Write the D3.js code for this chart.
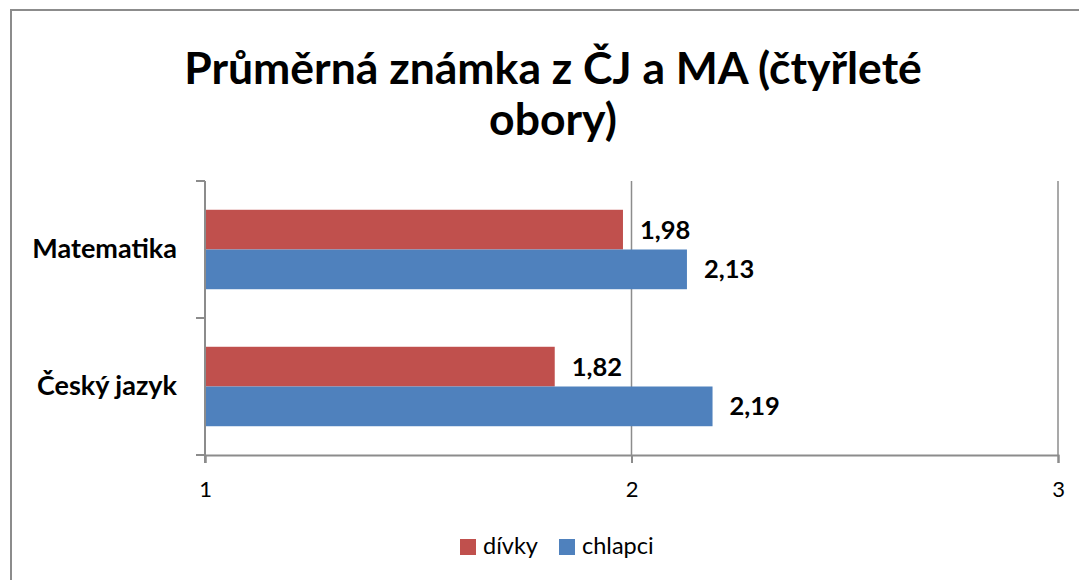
<!DOCTYPE html>
<html>
<head>
<meta charset="utf-8">
<script src="https://cdn.jsdelivr.net/npm/d3@7"></script>
<style>
  body { margin: 0; background: #fff; }
  svg { display: block; font-family: Lato, "Open Sans", sans-serif; }
</style>
</head>
<body>
<svg id="canvas" width="1079" height="580"></svg>
<script>
let categories = ['Matematika', 'Český jazyk']
let seriesNames = ['dívky', 'chlapci']
let divky = [1.98, 1.82]
let chlapci = [2.13, 2.19]
let xTicks = [1, 2, 3]
let seriesColors = ['#C0504D', '#4F81BD']
let titleLines = ['Průměrná známka z ČJ a MA (čtyřleté', 'obory)']

let canvas = d3.select('#canvas')

// outer frame (runs off the right and bottom edge)
canvas.append('rect')
    .attr('x', 11).attr('y', 10)
    .attr('width', 1100).attr('height', 600)
    .attr('fill', 'none')
    .attr('stroke', '#8c8c8c')
    .attr('stroke-width', 2)

let plotLeft = 205, plotRight = 1058, plotTop = 181, plotBottom = 455

let xScale = d3.scaleLinear()
    .domain([1, 3])
    .range([plotLeft, plotRight])

let yScale = d3.scaleBand()
    .domain(categories)
    .range([plotTop, plotBottom])
    .paddingInner(0.42)
    .paddingOuter(0.21)

let ySub = d3.scaleBand()
    .domain(seriesNames)
    .range([0, yScale.bandwidth()])

// title
canvas.append('text')
    .attr('x', 553)
    .attr('text-anchor', 'middle')
    .attr('font-weight', 'bold')
    .attr('font-size', 44.5)
    .selectAll('tspan')
    .data(titleLines)
    .enter()
    .append('tspan')
    .attr('x', 553)
    .attr('y', (d, i) => 84 + i * 51)
    .text(d => d)

// vertical gridlines
canvas.append('g')
    .selectAll('line')
    .data(xTicks.slice(1))
    .enter()
    .append('line')
    .attr('x1', d => xScale(d)).attr('x2', d => xScale(d))
    .attr('y1', plotTop).attr('y2', plotBottom)
    .attr('stroke', '#8c8c8c')
    .attr('stroke-width', 1.5)

// bars
let rows = categories.map((c, i) => ({ category: c, values: [divky[i], chlapci[i]] }))

let group = canvas.selectAll('g.cat')
    .data(rows)
    .enter()
    .append('g')
    .attr('class', 'cat')
    .attr('transform', d => 'translate(0,' + yScale(d.category) + ')')

group.selectAll('rect')
    .data(d => d.values.map((v, j) => ({ name: seriesNames[j], value: v, color: seriesColors[j] })))
    .enter()
    .append('rect')
    .attr('x', xScale(1))
    .attr('y', d => ySub(d.name))
    .attr('width', d => xScale(d.value) - xScale(1))
    .attr('height', ySub.bandwidth())
    .attr('fill', d => d.color)

group.selectAll('text')
    .data(d => d.values.map((v, j) => ({ name: seriesNames[j], value: v })))
    .enter()
    .append('text')
    .attr('x', d => xScale(d.value) + 17)
    .attr('y', d => ySub(d.name) + ySub.bandwidth() / 2)
    .attr('dy', '0.35em')
    .attr('font-size', 25.5)
    .attr('font-weight', 'bold')
    .text(d => d3.format('.2f')(d.value).replace('.', ','))

// y axis
let yAxis = d3.axisLeft(yScale).tickSize(0).tickPadding(28)
let yg = canvas.append('g').attr('transform', 'translate(' + plotLeft + ',0)').call(yAxis)
yg.select('.domain').remove()
yg.selectAll('text')
    .attr('font-family', 'Lato, sans-serif')
    .attr('font-size', 27)
    .attr('font-weight', 'bold')
    .attr('fill', '#000')

canvas.append('line')
    .attr('x1', plotLeft).attr('x2', plotLeft)
    .attr('y1', plotTop).attr('y2', plotBottom + 8)
    .attr('stroke', '#8c8c8c').attr('stroke-width', 2)

canvas.selectAll('line.ytick')
    .data([plotTop, (plotTop + plotBottom) / 2, plotBottom])
    .enter()
    .append('line')
    .attr('class', 'ytick')
    .attr('x1', plotLeft - 9).attr('x2', plotLeft)
    .attr('y1', d => d).attr('y2', d => d)
    .attr('stroke', '#8c8c8c').attr('stroke-width', 2)

// x axis
let xAxis = d3.axisBottom(xScale).tickValues(xTicks).tickSize(8).tickPadding(18).tickFormat(d3.format('d'))
let xg = canvas.append('g').attr('transform', 'translate(0,' + plotBottom + ')').call(xAxis)
xg.select('.domain').attr('stroke', '#8c8c8c').attr('stroke-width', 2)
xg.selectAll('.tick line').attr('stroke', '#8c8c8c').attr('stroke-width', 2)
xg.selectAll('text')
    .attr('font-family', 'Lato, sans-serif')
    .attr('font-size', 22)
    .attr('fill', '#000')

// legend
let legendX = [460, 559]
let legend = canvas.selectAll('g.legend')
    .data(seriesNames)
    .enter()
    .append('g')
    .attr('class', 'legend')
    .attr('transform', (d, i) => 'translate(' + legendX[i] + ',539)')

legend.append('rect')
    .attr('width', 16).attr('height', 16)
    .attr('fill', (d, i) => seriesColors[i])

legend.append('text')
    .attr('x', 23)
    .attr('y', 15)
    .attr('font-size', 23.5)
    .text(d => d)
</script>
</body>
</html>
